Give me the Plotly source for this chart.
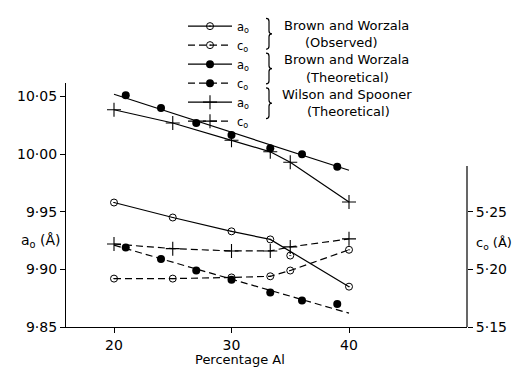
import plotly.graph_objects as go

# ---------------- data ----------------
x_obs = [20, 25, 30, 33.3, 35, 40]
bw_obs_a = [9.958, 9.945, 9.933, 9.926, 9.912, 9.885]
bw_obs_a_line_x = [20, 25, 30, 33.3, 40]
bw_obs_a_line = [9.958, 9.945, 9.933, 9.926, 9.885]
bw_obs_c = [5.192, 5.192, 5.193, 5.194, 5.199, 5.217]

x_th = [21, 24, 27, 30, 33.3, 36, 39]
bw_th_a = [10.051, 10.040, 10.027, 10.0165, 10.005, 10.000, 9.989]
bw_th_c = [5.219, 5.209, 5.199, 5.191, 5.180, 5.173, 5.170]
x_fit = [20, 40]
bw_th_a_fit = [10.052, 9.986]
bw_th_c_fit = [5.221, 5.162]

x_ws = [20, 25, 30, 33.3, 35, 40]
ws_a = [10.0385, 10.027, 10.012, 10.002, 9.993, 9.9585]
ws_c = [5.222, 5.218, 5.216, 5.216, 5.2195, 5.2265]

a_ticks = [9.85, 9.90, 9.95, 10.00, 10.05]
c_ticks = [5.15, 5.20, 5.25]
x_ticks = [20, 30, 40]

legend_names = ["a<sub>o</sub>", "c<sub>o</sub>"] * 3
group_labels = [("Brown and Worzala", "(Observed)"),
                ("Brown and Worzala", "(Theoretical)"),
                ("Wilson and Spooner", "(Theoretical)")]

# ---------------- layout geometry ----------------
W, H = 525, 371
L, R, T, B = 66, 467, 74, 327
FONT = "DejaVu Sans"
BLK = "black"
DASH = "7px,4px"


def px(xp):
    return (xp - L) / (R - L)


def py(yp):
    return (B - yp) / (B - T)


a_range = [9.85, 9.85 + (B - T) / 1195.0]
c_range = [5.15, 5.15 + (B - T) / 1195.0]

open_m = dict(symbol="circle-open-dot", size=7, color=BLK, line=dict(width=1, color=BLK))
fill_m = dict(symbol="circle", size=8, color=BLK)
plus_m = dict(symbol="cross-thin-open", size=10, color=BLK, line=dict(width=1.1, color=BLK))

fig = go.Figure()

# BW observed
fig.add_trace(go.Scatter(x=bw_obs_a_line_x, y=bw_obs_a_line, mode="lines",
                         line=dict(color=BLK, width=1.2), showlegend=False, yaxis="y"))
fig.add_trace(go.Scatter(x=x_obs, y=bw_obs_a, mode="markers", marker=open_m,
                         showlegend=False, yaxis="y"))
fig.add_trace(go.Scatter(x=x_obs, y=bw_obs_c, mode="lines+markers", marker=open_m,
                         line=dict(color=BLK, width=1.2, dash=DASH), showlegend=False, yaxis="y2"))
# BW theoretical
fig.add_trace(go.Scatter(x=x_fit, y=bw_th_a_fit, mode="lines",
                         line=dict(color=BLK, width=1.2), showlegend=False, yaxis="y"))
fig.add_trace(go.Scatter(x=x_th, y=bw_th_a, mode="markers", marker=fill_m,
                         showlegend=False, yaxis="y"))
fig.add_trace(go.Scatter(x=x_fit, y=bw_th_c_fit, mode="lines",
                         line=dict(color=BLK, width=1.2, dash=DASH), showlegend=False, yaxis="y2"))
fig.add_trace(go.Scatter(x=x_th, y=bw_th_c, mode="markers", marker=fill_m,
                         showlegend=False, yaxis="y2"))
# Wilson and Spooner
fig.add_trace(go.Scatter(x=x_ws, y=ws_a, mode="lines+markers", marker=plus_m,
                         line=dict(color=BLK, width=1.2), showlegend=False, yaxis="y"))
fig.add_trace(go.Scatter(x=x_ws, y=ws_c, mode="lines+markers", marker=plus_m,
                         line=dict(color=BLK, width=1.2, dash=DASH), showlegend=False, yaxis="y2"))

# legend entries
leg_styles = [(open_m, "solid"), (open_m, DASH), (fill_m, "solid"), (fill_m, DASH),
              (plus_m, "solid"), (plus_m, DASH)]
for name, (m, d) in zip(legend_names, leg_styles):
    fig.add_trace(go.Scatter(x=[None], y=[None], mode="lines+markers", name=name,
                             marker=m, line=dict(color=BLK, width=1.2, dash=d)))

annotations = []
shapes = []
row_h = 18
row0 = 14
centers = [(346, 341), (346, 347), (347, 348)]
for i, (l1, l2) in enumerate(group_labels):
    y1 = row0 + row_h * (2 * i)
    y2 = y1 + row_h
    annotations.append(dict(xref="paper", yref="paper", x=px(centers[i][0]), y=py(y1), text=l1,
                            showarrow=False, xanchor="center", yanchor="middle",
                            font=dict(family=FONT, size=13, color=BLK)))
    annotations.append(dict(xref="paper", yref="paper", x=px(centers[i][1]), y=py(y2), text=l2,
                            showarrow=False, xanchor="center", yanchor="middle",
                            font=dict(family=FONT, size=13, color=BLK)))
    # brace
    bx = 266
    yt, yb = y1 - 7, y2 + 7
    ym = (yt + yb) / 2
    pts = (f"M {px(bx)} {py(yt)} Q {px(bx+3)} {py(yt)} {px(bx+3)} {py(yt+3)} "
           f"L {px(bx+3)} {py(ym-3)} Q {px(bx+3)} {py(ym)} {px(bx+6)} {py(ym)} "
           f"Q {px(bx+3)} {py(ym)} {px(bx+3)} {py(ym+3)} "
           f"L {px(bx+3)} {py(yb-3)} Q {px(bx+3)} {py(yb)} {px(bx)} {py(yb)}")
    shapes.append(dict(type="path", xref="paper", yref="paper", path=pts,
                       line=dict(color=BLK, width=1.2)))

# axis side titles
annotations.append(dict(xref="paper", yref="paper", x=px(63), y=py(238),
                        text="a<sub>o</sub> (Å)", showarrow=False, xanchor="right",
                        yanchor="middle", font=dict(family=FONT, size=14, color=BLK)))
annotations.append(dict(xref="paper", yref="paper", x=px(474), y=py(240),
                        text="c<sub>o</sub> (Å)", showarrow=False, xanchor="left",
                        yanchor="middle", font=dict(family=FONT, size=13, color=BLK)))
annotations.append(dict(xref="paper", yref="paper", x=px(240), y=py(361),
                        text="Percentage Al", showarrow=False, xanchor="center",
                        yanchor="middle", font=dict(family=FONT, size=13, color=BLK)))

# partial right axis line
shapes.append(dict(type="line", xref="paper", yref="y2", x0=1, x1=1,
                   y0=c_range[0], y1=5.15 + (B - 160) / 1195.0,
                   line=dict(color=BLK, width=1.2)))

fig.update_layout(
    width=W, height=H,
    margin=dict(l=L, r=W - R, t=T, b=H - B, pad=0),
    paper_bgcolor="white", plot_bgcolor="white",
    font=dict(family=FONT, size=14, color=BLK),
    hovermode=False,
    xaxis=dict(range=[20 - (114 - L) / 11.75, 20 + (R - 114) / 11.75],
               tickvals=x_ticks, ticktext=[str(v) for v in x_ticks],
               ticks="outside", ticklen=5, tickwidth=1.2, tickcolor=BLK,
               showline=True, linecolor=BLK, linewidth=1.2, showgrid=False,
               zeroline=False, tickfont=dict(size=14)),
    yaxis=dict(range=a_range, tickvals=a_ticks,
               ticktext=[f"{v:.2f}".replace(".", "·") for v in a_ticks],
               ticks="outside", ticklen=5, tickwidth=1.2, tickcolor=BLK,
               showline=True, linecolor=BLK, linewidth=1.2, showgrid=False,
               zeroline=False, tickfont=dict(size=14)),
    yaxis2=dict(range=c_range, overlaying="y", side="right", tickvals=c_ticks,
                ticktext=[f"{v:.2f}".replace(".", "·") for v in c_ticks],
                ticks="outside", ticklen=5, tickwidth=1.2, tickcolor=BLK,
                showline=False, showgrid=False, zeroline=False,
                tickfont=dict(size=14)),
    legend=dict(x=px(183), y=py(0), xanchor="left", yanchor="top",
                bgcolor="rgba(0,0,0,0)", font=dict(family=FONT, size=11.5, color=BLK),
                itemwidth=44, tracegroupgap=0),
    annotations=annotations,
    shapes=shapes,
)

fig.write_html("out.html",
               config={"displayModeBar": False},
               post_script="document.body.style.margin='0px';"
                           "document.body.style.overflow='hidden';")
